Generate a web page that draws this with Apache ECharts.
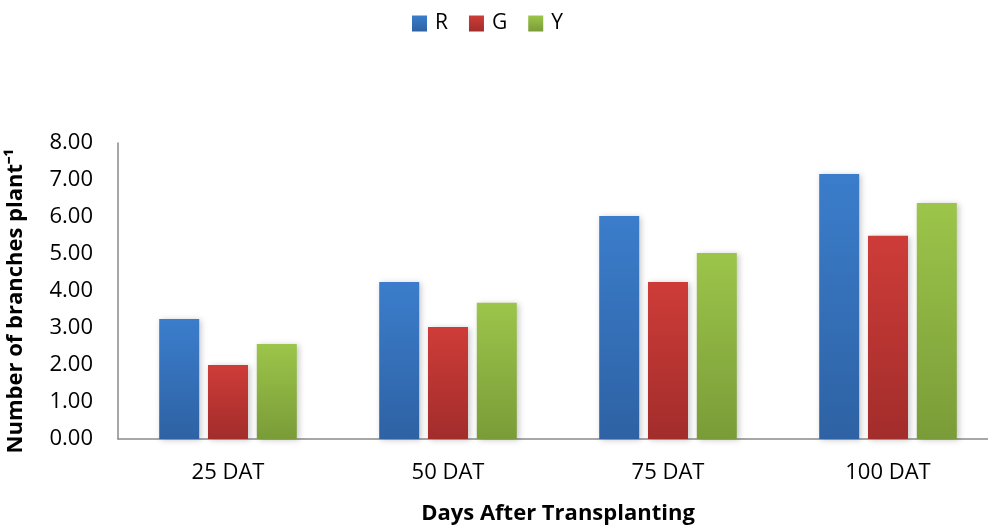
<!DOCTYPE html>
<html>
<head>
<meta charset="utf-8">
<script src="https://cdn.jsdelivr.net/npm/echarts@6/dist/echarts.min.js"></script>
<style>
  html, body { margin: 0; padding: 0; background: #fff; }
  #chart { width: 988px; height: 527px; }
</style>
</head>
<body>
<div id="chart"></div>
<script>
// Sampling dates
const categories = ['25 DAT', '50 DAT', '75 DAT', '100 DAT'];
// Mean number of branches per plant for each treatment
const seriesR = [3.24, 4.24, 6.03, 7.16];
const seriesG = [2.00, 3.03, 4.24, 5.49];
const seriesY = [2.57, 3.68, 5.03, 6.38];
const yTicks = ['0.00', '1.00', '2.00', '3.00', '4.00', '5.00', '6.00', '7.00', '8.00'];

const FONT = 'Open Sans';

function grad(top, bottom) {
  return new echarts.graphic.LinearGradient(0, 0, 0, 1, [
    { offset: 0, color: top },
    { offset: 1, color: bottom }
  ]);
}

function barSeries(name, data, top, bottom) {
  return {
    name: name,
    type: 'bar',
    data: data,
    barWidth: 40,
    barGap: '22%',
    itemStyle: {
      color: grad(top, bottom),
      shadowColor: 'rgba(0,0,0,0.22)',
      shadowBlur: 6,
      shadowOffsetX: 2,
      shadowOffsetY: 1
    }
  };
}

const chart = echarts.init(document.getElementById('chart'));
chart.setOption({
  animation: false,
  backgroundColor: '#ffffff',
  legend: {
    top: 13,
    left: 412,
    padding: 0,
    itemWidth: 15,
    itemHeight: 16,
    itemGap: 21,
    icon: 'rect',
    textStyle: { fontFamily: FONT, fontSize: 21, color: '#000', padding: [0, 0, 0, 3] },
    data: [
      { name: 'R', itemStyle: { color: grad('#3B7DCB', '#2E62A4') } },
      { name: 'G', itemStyle: { color: grad('#CE3C38', '#A22D2B') } },
      { name: 'Y', itemStyle: { color: grad('#9CC54A', '#7A9C38') } }
    ]
  },
  grid: {
    left: 118, top: 143, width: 880, height: 296,
    containLabel: false,
    outerBoundsMode: 'none'
  },
  xAxis: {
    type: 'category',
    data: categories,
    name: 'Days After Transplanting',
    nameLocation: 'middle',
    nameGap: 64,
    nameTextStyle: { fontFamily: FONT, fontSize: 22, fontWeight: 'bold', color: '#000' },
    axisLine: { lineStyle: { color: '#8a8a8a', width: 1.5 } },
    axisTick: { show: false },
    axisLabel: { fontFamily: FONT, fontSize: 22, color: '#000', margin: 23 }
  },
  yAxis: {
    type: 'value',
    min: 0,
    max: 8,
    interval: 1,
    name: 'Number of branches plant\u207B\u00B9',
    nameLocation: 'middle',
    nameGap: 91,
    nameTextStyle: {
      fontFamily: FONT, fontSize: 22, fontWeight: 'bold', color: '#000',
      padding: [0, 20, 0, 0]
    },
    axisLine: { show: true, lineStyle: { color: '#8a8a8a', width: 1.5 } },
    axisTick: { show: false },
    splitLine: { show: false },
    axisLabel: {
      fontFamily: FONT, fontSize: 22, color: '#000', margin: 25,
      formatter: function (v) { return yTicks[Math.round(v)]; }
    }
  },
  series: [
    barSeries('R', seriesR, '#3B7DCB', '#2E62A4'),
    barSeries('G', seriesG, '#CE3C38', '#A22D2B'),
    barSeries('Y', seriesY, '#9CC54A', '#7A9C38')
  ]
});
</script>
</body>
</html>
